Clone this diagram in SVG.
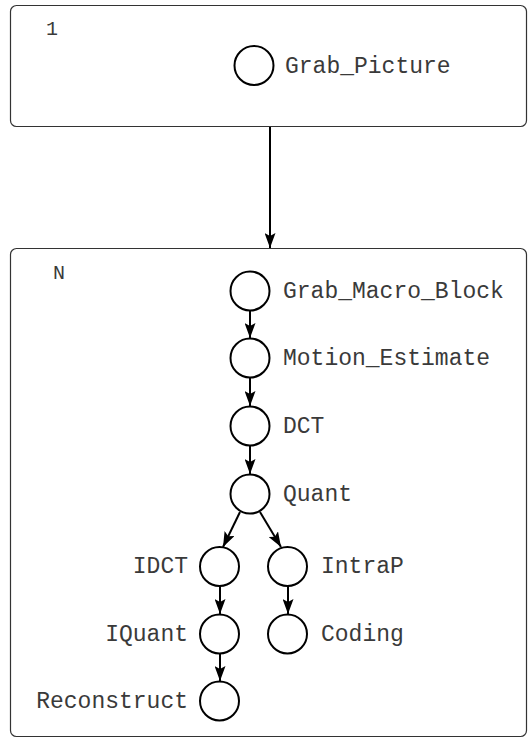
<svg xmlns="http://www.w3.org/2000/svg" width="528" height="738" viewBox="0 0 528 738">
<style>
.box{fill:none;stroke:#333;stroke-width:1.2}
.node{fill:#fff;stroke:#000;stroke-width:2}
.lbl{font-family:"Liberation Mono","Courier New",monospace;font-size:23px;fill:#3a3a3a}
.num{font-family:"Liberation Mono","Courier New",monospace;font-size:20px;fill:#3a3a3a}
.edge{fill:none;stroke:#000;stroke-width:2}
.end{text-anchor:end}
</style>
<defs>
<marker id="arr" markerUnits="userSpaceOnUse" markerWidth="15" markerHeight="11" refX="15" refY="5.5" orient="auto">
<path d="M0,0 L15,5.5 L0,11 L3,5.5 Z" fill="#000"/>
</marker>
</defs>
<rect class="box" x="10.5" y="5.5" width="516" height="121" rx="6"/>
<text class="num" x="46" y="35">1</text>
<rect class="box" x="10.5" y="248.5" width="516" height="488" rx="6"/>
<text class="num" x="53" y="279">N</text>
<g id="connectors">
<line class="edge" x1="270" y1="127" x2="270" y2="248" marker-end="url(#arr)"/>
<line class="edge" x1="250" y1="311" x2="250" y2="338" marker-end="url(#arr)"/>
<line class="edge" x1="250" y1="378" x2="250" y2="406" marker-end="url(#arr)"/>
<line class="edge" x1="250" y1="446" x2="250" y2="474" marker-end="url(#arr)"/>
<line class="edge" x1="240" y1="512" x2="223" y2="547" marker-end="url(#arr)"/>
<line class="edge" x1="260" y1="512" x2="281" y2="547" marker-end="url(#arr)"/>
<line class="edge" x1="220" y1="586" x2="220" y2="614" marker-end="url(#arr)"/>
<line class="edge" x1="288" y1="586" x2="288" y2="614" marker-end="url(#arr)"/>
<line class="edge" x1="220" y1="654" x2="220" y2="681" marker-end="url(#arr)"/>
</g>
<g id="Grab_Picture"><circle class="node" cx="254" cy="65.5" r="19.5"/><text class="lbl" x="285" y="73">Grab_Picture</text></g>
<g id="Grab_Macro_Block"><circle class="node" cx="250" cy="291" r="19.5"/><text class="lbl" x="283" y="298">Grab_Macro_Block</text></g>
<g id="Motion_Estimate"><circle class="node" cx="250" cy="358" r="19.5"/><text class="lbl" x="283" y="365">Motion_Estimate</text></g>
<g id="DCT"><circle class="node" cx="250" cy="426" r="19.5"/><text class="lbl" x="283" y="433">DCT</text></g>
<g id="Quant"><circle class="node" cx="250" cy="494" r="19.5"/><text class="lbl" x="283" y="501">Quant</text></g>
<g id="IDCT"><circle class="node" cx="219.5" cy="566.5" r="19.5"/><text class="lbl end" x="188" y="573">IDCT</text></g>
<g id="IntraP"><circle class="node" cx="287.5" cy="566.5" r="19.5"/><text class="lbl" x="321" y="573">IntraP</text></g>
<g id="IQuant"><circle class="node" cx="219.5" cy="634" r="19.5"/><text class="lbl end" x="188" y="641">IQuant</text></g>
<g id="Coding"><circle class="node" cx="287.5" cy="634" r="19.5"/><text class="lbl" x="321" y="641">Coding</text></g>
<g id="Reconstruct"><circle class="node" cx="219.5" cy="701" r="19.5"/><text class="lbl end" x="188" y="708">Reconstruct</text></g>
</svg>
